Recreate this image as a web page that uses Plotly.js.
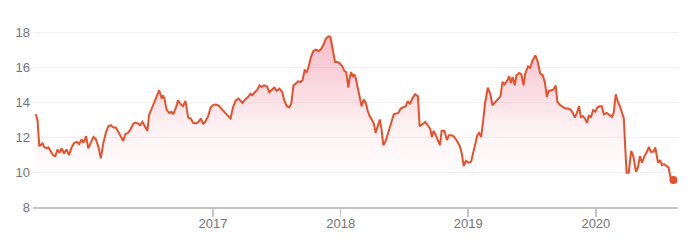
<!DOCTYPE html>
<html>
<head>
<meta charset="utf-8">
<script src="https://cdn.plot.ly/plotly-3.0.1.min.js"></script>
<style>
  html, body { margin: 0; padding: 0; background: #ffffff; }
  #chart { width: 698px; height: 244px; }
</style>
</head>
<body>
<div id="chart"></div>
<script>
const dates = [
  "2015-08-13","2015-08-18","2015-08-23","2015-09-01","2015-09-06","2015-09-12","2015-09-18","2015-09-25",
  "2015-10-02","2015-10-08","2015-10-14","2015-10-20","2015-10-26","2015-11-02","2015-11-09","2015-11-16",
  "2015-11-24","2015-12-01","2015-12-08","2015-12-15","2015-12-22","2015-12-27",
  "2016-01-04","2016-01-10","2016-01-17","2016-01-25","2016-02-01","2016-02-08","2016-02-15","2016-02-22",
  "2016-03-01","2016-03-08","2016-03-15","2016-03-22","2016-03-29","2016-04-06","2016-04-13","2016-04-19",
  "2016-04-25","2016-05-03","2016-05-10","2016-05-18","2016-05-25","2016-06-01","2016-06-06","2016-06-13",
  "2016-06-20","2016-06-27","2016-07-02","2016-07-10","2016-07-16","2016-07-23","2016-07-31","2016-08-07",
  "2016-08-11","2016-08-15","2016-08-21","2016-08-29","2016-09-04","2016-09-09","2016-09-17","2016-09-23",
  "2016-09-30","2016-10-07","2016-10-14","2016-10-22","2016-10-29","2016-11-05","2016-11-13","2016-11-20",
  "2016-11-27","2016-12-04","2016-12-11","2016-12-18","2016-12-25",
  "2017-01-02","2017-01-09","2017-01-17","2017-01-24","2017-02-01","2017-02-08","2017-02-17","2017-02-20",
  "2017-02-27","2017-03-07","2017-03-15","2017-03-26","2017-04-02","2017-04-11","2017-04-18","2017-04-23",
  "2017-05-01","2017-05-08","2017-05-14","2017-05-20","2017-05-27","2017-06-04","2017-06-11","2017-06-19",
  "2017-06-25","2017-07-02","2017-07-10","2017-07-18","2017-07-23","2017-07-31","2017-08-07","2017-08-13",
  "2017-08-19","2017-08-26","2017-09-01","2017-09-08","2017-09-14","2017-09-20","2017-09-26","2017-10-01",
  "2017-10-08","2017-10-15","2017-10-22","2017-10-30","2017-11-05","2017-11-12","2017-11-20","2017-11-27",
  "2017-12-03","2017-12-08","2017-12-16","2017-12-23","2017-12-30",
  "2018-01-06","2018-01-12","2018-01-17","2018-01-23","2018-01-27","2018-01-31","2018-02-05","2018-02-09",
  "2018-02-13","2018-02-19","2018-02-25","2018-03-02","2018-03-08","2018-03-14","2018-03-19","2018-03-25",
  "2018-03-31","2018-04-06","2018-04-11","2018-04-17","2018-04-23","2018-04-28","2018-05-03","2018-05-10",
  "2018-05-17","2018-05-25","2018-06-02","2018-06-09","2018-06-15","2018-06-22","2018-06-28","2018-07-06",
  "2018-07-12","2018-07-18","2018-07-25","2018-08-02","2018-08-10","2018-08-15","2018-08-23","2018-08-31",
  "2018-09-07","2018-09-14","2018-09-19","2018-09-24","2018-09-30","2018-10-06","2018-10-12","2018-10-17",
  "2018-10-25","2018-11-01","2018-11-07","2018-11-15","2018-11-22","2018-11-30","2018-12-08","2018-12-14",
  "2018-12-19","2018-12-25",
  "2019-01-02","2019-01-09","2019-01-15","2019-01-21","2019-01-27","2019-02-01","2019-02-07","2019-02-13",
  "2019-02-18","2019-02-26","2019-03-06","2019-03-11","2019-03-19","2019-03-27","2019-04-03","2019-04-09",
  "2019-04-15","2019-04-23","2019-04-28","2019-05-03","2019-05-08","2019-05-14","2019-05-19","2019-05-27",
  "2019-06-02","2019-06-08","2019-06-13","2019-06-21","2019-06-27","2019-07-04","2019-07-12","2019-07-19",
  "2019-07-26","2019-08-02","2019-08-08","2019-08-14","2019-08-19","2019-08-27","2019-09-02","2019-09-08",
  "2019-09-13","2019-09-21","2019-09-29","2019-10-06","2019-10-14","2019-10-21","2019-10-27","2019-11-02",
  "2019-11-08","2019-11-14","2019-11-19","2019-11-25","2019-12-01","2019-12-07","2019-12-12","2019-12-18",
  "2019-12-24","2019-12-30",
  "2020-01-05","2020-01-12","2020-01-18","2020-01-24","2020-02-01","2020-02-08","2020-02-16","2020-02-21",
  "2020-02-27","2020-03-04","2020-03-10","2020-03-15","2020-03-21","2020-03-25","2020-03-29","2020-04-04",
  "2020-04-11","2020-04-17","2020-04-25","2020-05-01","2020-05-06","2020-05-12","2020-05-18","2020-05-26",
  "2020-06-01","2020-06-06","2020-06-14","2020-06-19","2020-06-27","2020-07-03","2020-07-08","2020-07-14",
  "2020-07-20","2020-07-27","2020-08-02","2020-08-10"
];

const prices = [
  13.32,12.98,11.49,11.65,11.45,11.36,11.42,11.17,
  10.96,10.92,11.30,11.11,11.36,11.07,11.30,10.98,
  11.45,11.68,11.74,11.61,11.88,11.68,
  12.06,11.36,11.68,12.02,11.88,11.45,10.79,11.65,
  12.31,12.64,12.69,12.56,12.56,12.31,12.02,11.79,
  12.18,12.25,12.45,12.79,12.85,12.79,12.69,12.88,
  12.64,12.37,13.27,13.65,14.03,14.26,14.70,14.22,
  14.41,14.22,13.59,13.40,13.46,13.32,13.71,14.12,
  13.90,13.78,14.08,13.13,13.08,12.83,12.79,12.88,
  13.08,12.75,12.94,13.21,13.71,
  13.86,13.88,13.82,13.65,13.46,13.29,13.13,13.08,
  13.71,14.12,14.22,13.97,14.16,14.31,14.50,14.41,
  14.60,14.74,14.98,14.89,14.98,14.93,14.58,14.74,
  14.85,14.66,14.79,14.60,14.16,13.78,13.71,13.94,
  14.98,15.08,15.21,15.17,15.27,15.84,15.74,16.03,
  16.60,16.95,17.03,16.95,17.03,17.27,17.66,17.79,
  17.75,17.18,16.32,16.32,16.23,
  16.07,15.80,15.74,14.85,15.42,15.74,15.46,15.61,
  15.42,14.85,14.31,13.78,14.16,13.97,13.55,13.21,
  13.02,12.79,12.25,12.64,13.02,12.45,11.55,11.79,
  12.25,12.79,13.32,13.36,13.40,13.65,13.71,13.78,
  14.08,13.90,14.22,14.47,14.35,12.64,12.75,12.88,
  12.69,12.50,12.02,12.37,12.12,11.84,11.55,12.37,
  12.37,11.84,12.12,12.12,12.02,11.79,11.49,11.03,
  10.35,10.65,
  10.54,10.59,11.07,11.61,12.12,12.25,12.02,13.02,
  13.94,14.85,14.41,13.84,14.03,14.22,14.35,15.17,
  15.04,15.27,15.50,15.12,15.46,14.98,15.56,15.69,
  15.61,14.98,15.65,16.07,15.99,16.41,16.70,16.32,
  15.65,15.56,15.17,14.31,14.66,14.70,14.74,14.98,
  14.03,13.84,13.71,13.65,13.65,13.59,13.40,13.13,
  13.40,13.78,13.17,13.21,13.08,12.83,13.27,13.13,
  13.55,13.46,
  13.71,13.78,13.78,13.32,13.40,13.27,13.17,13.40,
  14.47,14.03,13.78,13.46,13.08,11.45,9.96,9.96,
  11.22,10.92,10.02,10.31,10.92,10.54,10.88,11.17,
  11.45,11.17,11.17,11.42,10.54,10.69,10.40,10.46,
  10.35,10.27,9.64,9.55
];

const xTickVals = ["2017-01-01","2018-01-01","2019-01-01","2020-01-01"];
const xTickText = ["2017","2018","2019","2020"];
const yTickVals = [8,10,12,14,16,18];

const lineColor = "#e4512b";

const traces = [
  {
    type: "scatter",
    mode: "lines",
    x: dates,
    y: prices,
    line: { color: lineColor, width: 2 },
    fill: "tozeroy",
    fillgradient: {
      type: "vertical",
      start: 9.5,
      stop: 18,
      colorscale: [
        [0, "rgba(225,40,80,0)"],
        [0.35, "rgba(225,40,80,0.06)"],
        [1, "rgba(225,40,80,0.32)"]
      ]
    },
    hoverinfo: "x+y"
  },
  {
    type: "scatter",
    mode: "markers",
    x: [dates[dates.length - 1]],
    y: [prices[prices.length - 1]],
    marker: { color: lineColor, size: 8 },
    hoverinfo: "x+y"
  }
];

const layout = {
  width: 698,
  height: 244,
  margin: { l: 33, r: 20, t: 24, b: 37 },
  paper_bgcolor: "#ffffff",
  plot_bgcolor: "#ffffff",
  showlegend: false,
  font: { family: "Arial, 'Liberation Sans', sans-serif", size: 13, color: "#70757a" },
  xaxis: {
    type: "date",
    range: ["2015-08-05", "2020-08-23"],
    tickvals: xTickVals,
    ticktext: xTickText,
    showgrid: false,
    zeroline: false,
    showline: true,
    linecolor: "#c4c4c4",
    linewidth: 1.5,
    ticks: "outside",
    ticklen: 8,
    tickwidth: 1.5,
    tickcolor: "#c4c4c4",
    ticklabelstandoff: -4,
    tickfont: { size: 13, color: "#70757a" }
  },
  yaxis: {
    range: [8, 18.5],
    tickvals: yTickVals,
    ticktext: yTickVals.map(String),
    showgrid: true,
    gridcolor: "#f1f1f1",
    gridwidth: 1,
    zeroline: false,
    showline: false,
    ticks: "",
    ticklabelstandoff: 2,
    tickfont: { size: 13, color: "#70757a" }
  }
};

Plotly.newPlot("chart", traces, layout, { displayModeBar: false, staticPlot: true });
</script>
</body>
</html>
